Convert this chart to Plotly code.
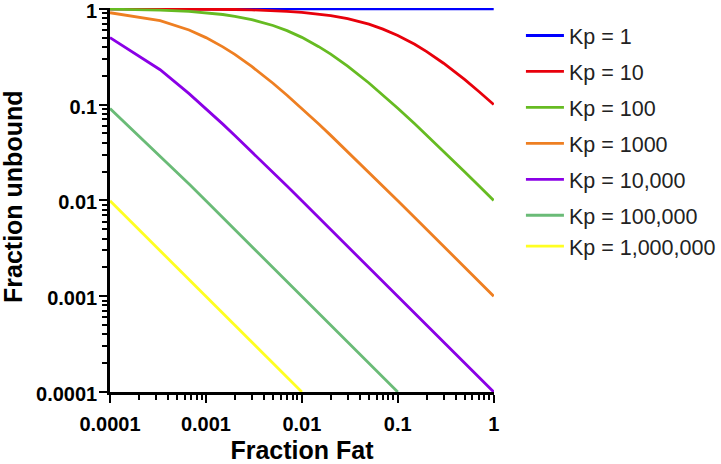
import plotly.graph_objects as go

fraction_fat = [0.0001, 0.000333, 0.000667, 0.001, 0.0015, 0.002, 0.003, 0.005, 0.007,
                0.01, 0.015, 0.02, 0.03, 0.05, 0.07, 0.1, 0.15, 0.2, 0.3, 0.5, 0.7, 1]

kp_1 = [1] * 22
kp_10 = [0.999, 0.997, 0.994, 0.991, 0.987, 0.982, 0.974, 0.957, 0.941, 0.917, 0.881,
         0.847, 0.787, 0.690, 0.613, 0.526, 0.426, 0.357, 0.270, 0.182, 0.137, 0.1]
kp_100 = [0.990, 0.968, 0.938, 0.910, 0.871, 0.835, 0.771, 0.669, 0.591, 0.503, 0.402,
          0.336, 0.252, 0.168, 0.126, 0.0917, 0.0631, 0.0481, 0.0326, 0.0198, 0.0142, 0.01]
kp_1000 = [0.909, 0.750, 0.600, 0.500, 0.400, 0.334, 0.250, 0.167, 0.125, 0.0910, 0.0626,
           0.0477, 0.0323, 0.0196, 0.0141, 0.00991, 0.00663, 0.00498, 0.00333, 0.002,
           0.00143, 0.001]
kp_10000 = [0.500, 0.231, 0.130, 0.0909, 0.0625, 0.0476, 0.0323, 0.0196, 0.0141, 0.0099,
            0.00662, 0.00498, 0.00333, 0.002, 0.00143, 0.001, 0.000667, 0.0005, 0.000333,
            0.0002, 0.000143, 0.0001]
kp_100000 = [0.0909, 0.0292, 0.0148, 0.0099, 0.00662, 0.00498, 0.00333, 0.002, 0.00143,
             0.001, 0.000667, 0.0005, 0.000333, 0.0002, 0.000143, 0.0001,
             None, None, None, None, None, None]
kp_1000000 = [0.0099, 0.003, 0.0015, 0.000999, 0.000666, 0.0005, 0.000333, 0.0002,
              0.000143, 0.0001, None, None, None, None, None, None, None, None, None,
              None, None, None]

series_names = ["Kp = 1", "Kp = 10", "Kp = 100", "Kp = 1000", "Kp = 10,000",
                "Kp = 100,000", "Kp = 1,000,000"]
series_values = [kp_1, kp_10, kp_100, kp_1000, kp_10000, kp_100000, kp_1000000]
series_colors = ["#0000FF", "#E8000B", "#66BB22", "#EE7F22", "#8A00E6", "#6ABB77", "#FFFF22"]
legend_groups = ["g1", "g2", "g3", "g4", "g5", "g6", "g6"]

tick_vals = [0.0001, 0.001, 0.01, 0.1, 1]
tick_text = ["0.0001", "0.001", "0.01", "0.1", "1"]
minor_vals = [m * 10 ** e for e in range(-4, 0) for m in range(2, 10)]

FONT = "Liberation Sans, Arial, sans-serif"

fig = go.Figure()
for name, vals, col, grp in zip(series_names, series_values, series_colors, legend_groups):
    fig.add_trace(go.Scatter(x=fraction_fat, y=vals, mode="lines", name=name,
                             line=dict(color=col, width=2.8), legendgroup=grp,
                             connectgaps=False))


def axis(standoff, rng, shift):
    return dict(
        type="log", range=rng, showgrid=False, zeroline=False, automargin=False,
        showline=True, linecolor="black", linewidth=2.6,
        ticks="outside", ticklen=8, tickwidth=2.4, tickcolor="black",
        tickvals=tick_vals, ticktext=tick_text, ticklabelstandoff=standoff,
        ticklabelshift=shift, ticklabeloverflow="allow",
        tickfont=dict(family=FONT, size=20, color="black", weight="bold"),
        minor=dict(ticks="outside", ticklen=5, tickwidth=1.8, tickcolor="black",
                   tickvals=minor_vals, showgrid=False),
    )


fig.update_layout(
    width=721, height=464,
    margin=dict(l=110, r=227, t=8, b=72, autoexpand=False),
    plot_bgcolor="white", paper_bgcolor="white",
    xaxis=dict(**axis(4, [-4, 0.003], 0),
               title=dict(text="Fraction Fat", standoff=14,
                          font=dict(family=FONT, size=25, color="black", weight="bold"))),
    yaxis=axis(-2, [-4, 0.008], 2),
    annotations=[dict(text="Fraction unbound", textangle=-90, xref="paper", yref="paper",
                      x=(13 - 110) / 384, y=(392 - 197) / 384, xanchor="center",
                      yanchor="middle", showarrow=False,
                      font=dict(family=FONT, size=25, color="black", weight="bold"))],
    legend=dict(x=(522 - 110) / 385, y=(392 - 15) / 384, xanchor="left", yanchor="top",
                font=dict(family=FONT, size=21.5, color="#222222"), itemwidth=38,
                traceorder="grouped", tracegroupgap=5, bgcolor="rgba(0,0,0,0)"),
    showlegend=True,
)

fig.write_html("out.html", config={"displayModeBar": False},
               post_script="document.body.style.margin='0';")
